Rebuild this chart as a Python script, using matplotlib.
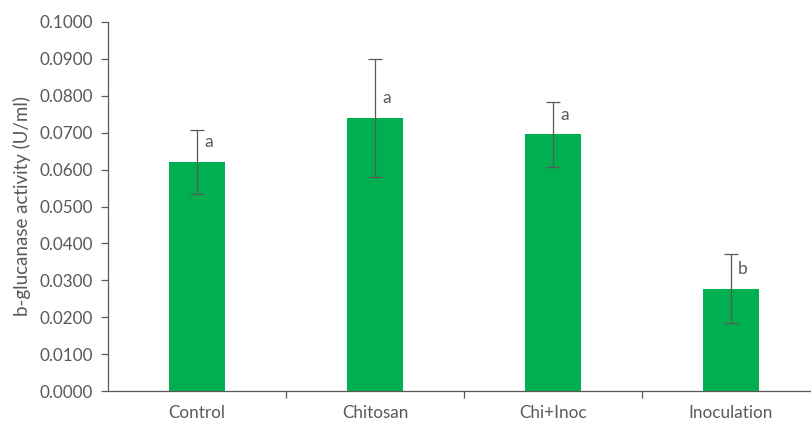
import matplotlib.pyplot as plt

# datos
tratamientos = ["Control", "Chitosan", "Chi+Inoc", "Inoculation"]
actividad = [0.0621, 0.0740, 0.0696, 0.0277]
error = [0.0086, 0.0161, 0.0088, 0.0093]
letras = ["a", "a", "a", "b"]

plt.rcParams['font.family'] = ['Lato', 'DejaVu Sans']
gris = "#595959"

fig = plt.figure(figsize=(8.11, 4.21), dpi=100)
# el eje llega hasta x=820 px, fuera de la imagen
ax = fig.add_axes([108 / 811, 30 / 421, 712 / 811, 369 / 421])

x = range(len(tratamientos))
ax.bar(x, actividad, width=0.31, color="#00B050", zorder=2)
ax.errorbar(x, actividad, yerr=error, fmt="none", ecolor=gris,
            elinewidth=0.9, capsize=5, capthick=0.9, zorder=3)

# letras de significancia, encima de la barra
for i, (v, l) in enumerate(zip(actividad, letras)):
    ax.annotate(l, (i, v), xytext=(5, 14), textcoords="offset points",
                ha="left", va="center", fontsize=12.5, color=gris)

ax.set_xlim(-0.5, len(tratamientos) - 0.5)
ax.set_ylim(0, 0.1)
ax.set_yticks([i / 100 for i in range(11)])
ax.set_yticklabels([f"{i / 100:.4f}" for i in range(11)])
ax.set_xticks(list(x))
ax.set_xticklabels(tratamientos)
ax.set_xticks([0.5, 1.5, 2.5], minor=True)

ax.spines["top"].set_visible(False)
ax.spines["right"].set_visible(False)
for s in ["left", "bottom"]:
    ax.spines[s].set_color(gris)
    ax.spines[s].set_linewidth(0.9)

ax.tick_params(axis="y", length=5, width=0.9, color=gris, labelcolor=gris,
               labelsize=12.3, pad=6)
ax.tick_params(axis="x", which="major", length=0, labelcolor=gris,
               labelsize=12.3, pad=10)
ax.tick_params(axis="x", which="minor", length=5, width=0.9, color=gris)

ax.set_ylabel("b-glucanase activity (U/ml)", fontsize=13.5, color=gris, labelpad=6)

plt.savefig("out.png", dpi=100)
plt.close()
